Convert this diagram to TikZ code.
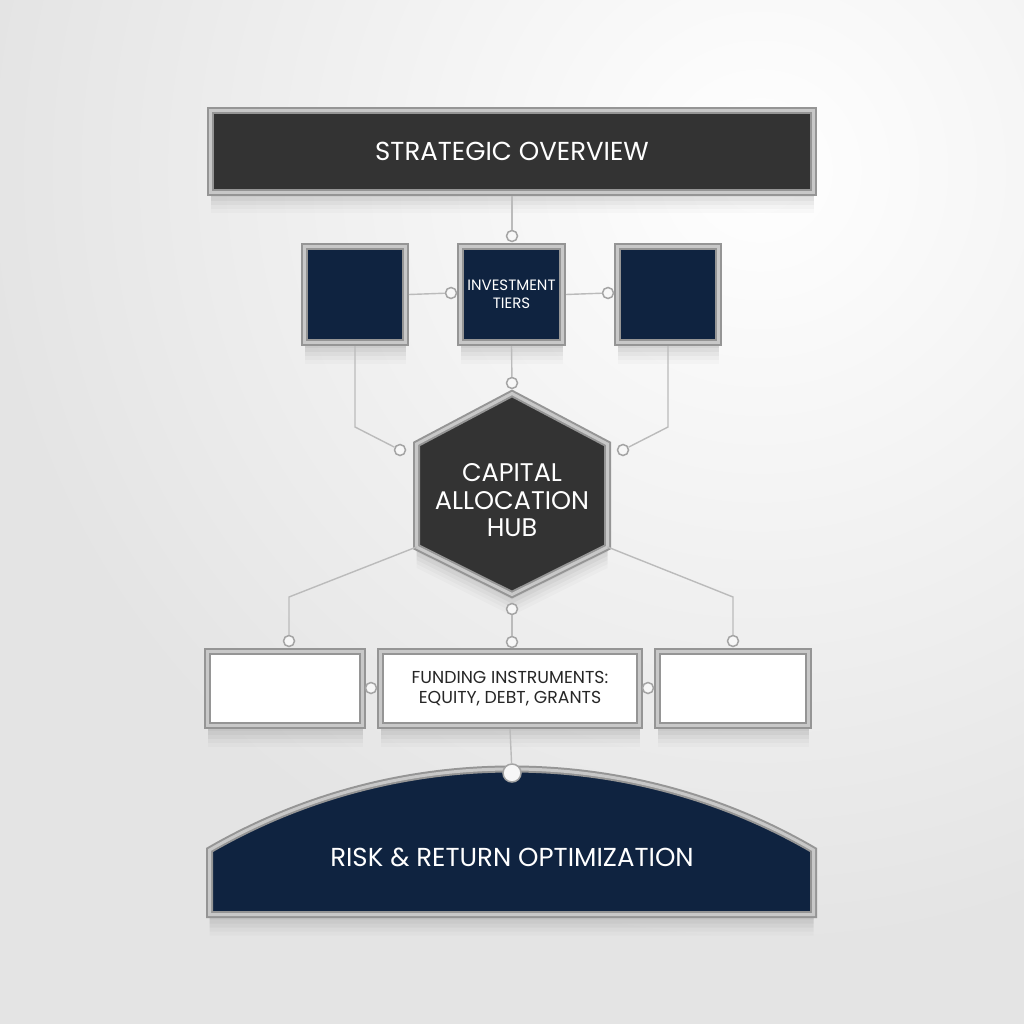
\documentclass[tikz,border=0pt]{standalone}
\usepackage{fontspec}
\setmainfont{Poppins}

\definecolor{bgA}{HTML}{E4E4E4}
\definecolor{darkbox}{HTML}{333333}
\definecolor{navy}{HTML}{0F2340}
\definecolor{frameC}{HTML}{959595}
\definecolor{frameL}{HTML}{C8C8C8}
\definecolor{wirec}{HTML}{BBBBBB}
\definecolor{dotc}{HTML}{A4A4A4}
\definecolor{ink}{HTML}{262626}

\tikzset{
  silverframe/.style={draw=frameC, line width=7pt, line join=miter,
    postaction={draw=frameL, line width=3pt, line join=miter}},
  softshadow/.style={
    preaction={fill=black, opacity=0.035, transform canvas={yshift=-5pt}},
    preaction={fill=black, opacity=0.035, transform canvas={yshift=-9pt}},
    preaction={fill=black, opacity=0.03, transform canvas={yshift=-13pt}},
    preaction={fill=black, opacity=0.025, transform canvas={yshift=-17pt}},
    preaction={fill=black, opacity=0.02, transform canvas={yshift=-21pt}}},
  dbox/.style={silverframe, softshadow, fill=darkbox, text=white, inner sep=0pt, align=center},
  nbox/.style={silverframe, softshadow, fill=navy, text=white, inner sep=0pt, align=center},
  wbox/.style={silverframe, softshadow, fill=white, text=ink, inner sep=0pt, align=center},
  wire/.style={draw=wirec, line width=1.4pt},
  dotn/.style={circle, draw=dotc, line width=1.5pt, fill=white!94!gray,
    minimum size=11pt, inner sep=0pt},
  bigfont/.style={font=\fontsize{26}{30}\selectfont},
}

\begin{document}
\begin{tikzpicture}[x=1pt, y=-1pt]
\useasboundingbox (0,0) rectangle (1024,1024);
% background
\fill[bgA] (0,0) rectangle (1024,1024);
\begin{scope}
  \clip (0,0) rectangle (1024,1024);
  \shade[inner color=white, outer color=bgA] (760,170) circle (780);
\end{scope}

% hexagon geometry
\coordinate (hT)  at (512,393.5);
\coordinate (hUR) at (607.5,444);
\coordinate (hLR) at (607.5,547);
\coordinate (hB)  at (512,594.5);
\coordinate (hLL) at (416.5,547);
\coordinate (hUL) at (416.5,444);

% elbow coordinates
\coordinate (eL)  at (355,427);
\coordinate (eR)  at (668,427);
\coordinate (eBL) at (289,597);
\coordinate (eBR) at (733,597);

% nodes (boxes)
\node[dbox, bigfont, minimum width=603pt, minimum height=82pt] (top) at (512,151.5) {STRATEGIC OVERVIEW};

\node[nbox, minimum width=101pt, minimum height=96pt] (sqL) at (355,294.5) {};
\node[nbox, minimum width=102pt, minimum height=96pt, font=\fontsize{15}{17.5}\selectfont] (sqM) at (511.5,294.5) {INVESTMENT\\TIERS};
\node[nbox, minimum width=101pt, minimum height=96pt] (sqR) at (668,294.5) {};

\node[wbox, minimum width=155pt, minimum height=74pt] (fL) at (285,688.5) {};
\node[wbox, minimum width=259pt, minimum height=74pt, font=\fontsize{17.3}{20.5}\selectfont] (fM) at (510,688.5) {FUNDING INSTRUMENTS:\\EQUITY, DEBT, GRANTS};
\node[wbox, minimum width=151pt, minimum height=74pt] (fR) at (733,688.5) {};

% hub and arch
\path[dbox] (hT) -- (hUR) -- (hLR) -- (hB) -- (hLL) -- (hUL) -- cycle;
\node[text=white, align=center, font=\fontsize{25.5}{27.5}\selectfont] (hub) at (512,500.5) {CAPITAL\\ALLOCATION\\HUB};

\coordinate (aBL) at (209.5,914.5);
\coordinate (aL)  at (209.5,850);
\coordinate (aR)  at (813.5,850);
\coordinate (aBR) at (813.5,914.5);
\path[nbox] (aBL) -- (aL) .. controls (396,742) and (628,742) .. (aR) -- (aBR) -- cycle;
\node[text=white, bigfont] (risk) at (512,857) {RISK \& RETURN OPTIMIZATION};

% dots
\node[dotn] (c1) at (512,236) {};
\node[dotn] (c2) at (451,293) {};
\node[dotn] (c3) at (608,293) {};
\node[dotn] (c4) at (512,383) {};
\node[dotn] (c5) at (400,450) {};
\node[dotn] (c6) at (623,450) {};
\node[dotn] (c7) at (289,641) {};
\node[dotn] (c8) at (512,609) {};
\node[dotn] (c9) at (512,642) {};
\node[dotn] (c10) at (733,641) {};
\node[dotn] (c11) at (371,688) {};
\node[dotn] (c12) at (648,688) {};
\node[dotn, minimum size=18pt] (c13) at (512,773) {};

% wires
\draw[wire] (top.south) -- (c1);
\draw[wire] (sqL.east) -- (c2);
\draw[wire] (sqM.east) -- (c3);
\draw[wire] (sqM.south) -- (c4);
\draw[wire] (sqL.south) -- (eL) -- (c5);
\draw[wire] (sqR.south) -- (eR) -- (c6);
\draw[wire] (hLL) -- (eBL) -- (c7);
\draw[wire] (c8) -- (c9);
\draw[wire] (hLR) -- (eBR) -- (c10);
\draw[wire] (fM.south) -- (c13);

\end{tikzpicture}
\end{document}
